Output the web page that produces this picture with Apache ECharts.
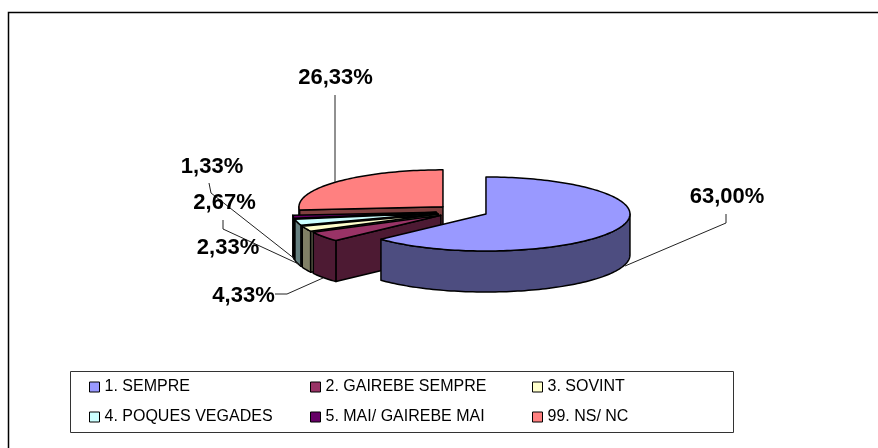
<!DOCTYPE html>
<html>
<head>
<meta charset="utf-8">
<style>html,body{margin:0;padding:0;background:#fff}#c{width:878px;height:448px}</style>
<script src="https://cdn.jsdelivr.net/npm/echarts@6/dist/echarts.min.js"></script>
</head>
<body>
<div id="c"></div>
<script>
const categories = ['1. SEMPRE', '2. GAIREBE SEMPRE', '3. SOVINT', '4. POQUES VEGADES', '5. MAI/ GAIREBE MAI', '99. NS/ NC'];
const values = [63.00, 4.33, 2.33, 2.67, 1.33, 26.33];
const topColors = ['#9999FF', '#993366', '#FFFFCC', '#CCFFFF', '#660066', '#FF8080'];
const sideColors = ['#4D4D80', '#4D1A33', '#808066', '#668080', '#330033', '#804040'];

// Pie geometry (parametric ellipse, angles clockwise from 12 o'clock)
const CX = 462.1, CY = 211.35, RX = 144, RY = 37, DEPTH = 41, EXPLODE = 26;
const total = values.reduce((a, b) => a + b, 0);
const RAD = Math.PI / 180;

// Label anchor + leader line for each slice
const labelAnchors = [[727, 197], [243.5, 296], [228, 248], [224.5, 203], [212, 167], [335.5, 77.5]];
const leaders = [
  [[625, 266], [726, 223], [726, 214]],
  [[275, 294], [287, 294], [323, 278]],
  null,
  [[223, 220], [223, 229], [303, 266]],
  [[209, 183], [211, 193], [300, 263]],
  [[335, 182], [335, 95]]
];
// Painter order: back slices first
const paintOrder = [5, 4, 3, 2, 1, 0];
const legendSlots = [[89, 379], [310, 379], [532, 379], [89, 409], [310, 409], [532, 409]];

function pct(v) { return v.toFixed(2).replace('.', ',') + '%'; }

function startAngle(i) {
  let s = 0;
  for (let k = 0; k < i; k++) s += values[k];
  return s / total * 360;
}

function renderSlice(params, api) {
  const i = params.seriesIndex;
  const v = api.value(0);
  const a0 = startAngle(i), a1 = a0 + v / total * 360, mid = (a0 + a1) / 2;
  const ax = CX + EXPLODE * Math.sin(mid * RAD);
  const ay = CY - EXPLODE * Math.cos(mid * RAD) * RY / RX;
  const pt = (deg, dz) => [ax + RX * Math.sin(deg * RAD), ay - RY * Math.cos(deg * RAD) + (dz || 0)];
  const arc = (from, to, dz) => {
    const out = [], n = Math.max(2, Math.ceil((to - from) / 1.5));
    for (let k = 0; k <= n; k++) out.push(pt(from + (to - from) * k / n, dz));
    return out;
  };
  const stroke = { stroke: '#000', lineWidth: 1.5, lineJoin: 'round' };
  const children = [];
  // radial wall on the start edge, when it faces the viewer
  if (a0 > 180 && a0 < 360) {
    children.push({ type: 'polygon', shape: { points: [[ax, ay], pt(a0), pt(a0, DEPTH), [ax, ay + DEPTH]] },
      style: { fill: sideColors[i], ...stroke } });
  }
  // outer wall on the front half
  const f0 = Math.max(a0, 90), f1 = Math.min(a1, 270);
  if (f1 > f0) {
    children.push({ type: 'polygon', shape: { points: arc(f0, f1, 0).concat(arc(f0, f1, DEPTH).reverse()) },
      style: { fill: sideColors[i], ...stroke } });
  }
  // top face
  children.push({ type: 'polygon', shape: { points: [[ax, ay]].concat(arc(a0, a1, 0)) },
    style: { fill: topColors[i], ...stroke } });
  // leader and label
  if (leaders[i]) {
    children.push({ type: 'polyline', shape: { points: leaders[i] },
      style: { fill: null, stroke: '#222', lineWidth: 1 } });
  }
  children.push({ type: 'text', x: labelAnchors[i][0], y: labelAnchors[i][1],
    style: { text: pct(v), fill: '#000', font: 'bold 22px "Liberation Sans", Arial, sans-serif', align: 'center', verticalAlign: 'middle' } });
  return { type: 'group', children };
}

const chart = echarts.init(document.getElementById('c'), null, { renderer: 'canvas' });
chart.setOption({
  animation: false,
  backgroundColor: '#fff',
  graphic: [
    { type: 'polyline', silent: true, z: 0, shape: { points: [[8.5, 448], [8.5, 12.5], [878, 12.5]] },
      style: { fill: null, stroke: '#000', lineWidth: 1.5 } },
    { type: 'rect', silent: true, z: 0, shape: { x: 70.5, y: 371.5, width: 663, height: 61 },
      style: { fill: '#fff', stroke: '#333', lineWidth: 1 } }
  ],
  legend: categories.map((name, i) => ({
    data: [name],
    left: legendSlots[i][0],
    top: legendSlots[i][1],
    padding: 0,
    itemWidth: 10,
    itemHeight: 10,
    itemGap: 0,
    selectedMode: false,
    icon: 'rect',
    itemStyle: { color: topColors[i], borderColor: '#000', borderWidth: 1 },
    textStyle: { color: '#000', fontFamily: '"Liberation Sans", Arial, sans-serif', fontSize: 16, padding: [2, 0, 0, 0] }
  })),
  series: categories.map((name, i) => ({
    type: 'custom',
    name,
    coordinateSystem: 'none',
    silent: true,
    z: 2 + paintOrder.indexOf(i),
    itemStyle: { color: topColors[i] },
    renderItem: renderSlice,
    data: [[values[i]]]
  }))
});
</script>
</body>
</html>
